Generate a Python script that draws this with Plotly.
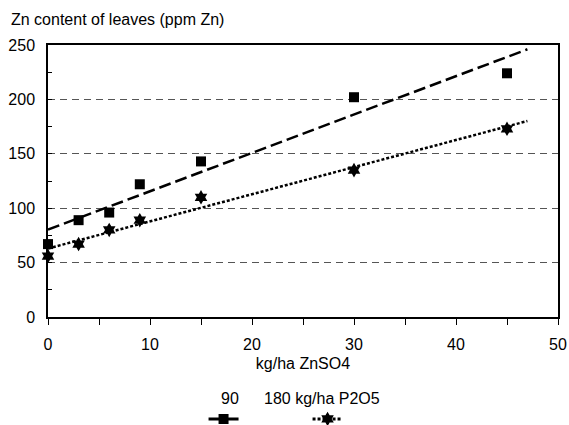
import numpy as np
import plotly.graph_objects as go

zn_rates = [0, 3, 6, 9, 15, 30, 45]
zn_p90 = [67, 89, 96, 122, 143, 202, 224]
zn_p180 = [56, 67, 80, 89, 110, 135, 173]
series_names = ["90", "180 kg/ha P2O5"]
trend_span = [0, 47]

FONT = "Liberation Sans, Arial, sans-serif"
FS = 16

def trend(x, y, span):
    m, b = np.polyfit(x, y, 1)
    xs = np.array(span, dtype=float)
    return xs, m * xs + b

fig = go.Figure()

tx1, ty1 = trend(zn_rates, zn_p90, trend_span)
tx2, ty2 = trend(zn_rates, zn_p180, trend_span)

fig.add_trace(go.Scatter(x=tx1, y=ty1, mode="lines", showlegend=False,
                         line=dict(color="black", width=2.5, dash="12px,5px")))
fig.add_trace(go.Scatter(x=tx2, y=ty2, mode="lines", showlegend=False,
                         line=dict(color="black", width=2.5, dash="3px,2px")))
fig.add_trace(go.Scatter(x=zn_rates, y=zn_p90, mode="markers", showlegend=False,
                         cliponaxis=False,
                         marker=dict(symbol="square", size=10, color="black")))
fig.add_trace(go.Scatter(x=zn_rates, y=zn_p180, mode="markers", showlegend=False,
                         cliponaxis=False,
                         marker=dict(symbol="hexagram", size=11, color="black")))

# legend samples
fig.add_trace(go.Scatter(x=[None], y=[None], mode="lines+markers", name=" ",
                         line=dict(color="black", width=3, dash="solid"),
                         marker=dict(symbol="square", size=10, color="black")))
fig.add_trace(go.Scatter(x=[None], y=[None], mode="lines+markers", name=" ",
                         line=dict(color="black", width=3, dash="3px,2px"),
                         marker=dict(symbol="hexagram", size=11, color="black")))

fig.update_layout(
    width=569, height=425,
    margin=dict(l=48, r=11, t=45, b=108, autoexpand=False),
    paper_bgcolor="white", plot_bgcolor="white",
    font=dict(family=FONT, size=FS, color="black"),
    showlegend=True,
    legend=dict(orientation="h", x=0.305, xanchor="left",
                yref="container", y=6/425, yanchor="middle",
                entrywidth=59, entrywidthmode="pixels",
                font=dict(size=FS), bgcolor="rgba(0,0,0,0)"),
    xaxis=dict(range=[0, 50], dtick=10, tick0=0, showgrid=False, zeroline=False,
               showline=True, linecolor="black", linewidth=1.5, mirror=True,
               ticks="outside", ticklen=6, tickcolor="black", automargin=False,
               ticklabelstandoff=6,
               minor=dict(dtick=5, ticks="outside", ticklen=6, tickcolor="black", showgrid=False),
               title=dict(text="kg/ha ZnSO4", font=dict(size=FS), standoff=6),
               tickfont=dict(size=FS)),
    yaxis=dict(range=[0, 250], dtick=50, tick0=0, showgrid=True, gridcolor="#555",
               griddash="7px,5px", gridwidth=1, zeroline=False,
               showline=True, linecolor="black", linewidth=1.5, mirror=True,
               ticks="inside", ticklen=4, tickcolor="black", automargin=False,
               ticklabelstandoff=8,
               minor=dict(dtick=25, ticks="inside", ticklen=4, tickcolor="black", showgrid=False),
               tickfont=dict(size=FS)),
    annotations=[
        dict(text="Zn content of leaves (ppm Zn)", xref="paper", yref="paper",
             x=-39/510, y=1, xanchor="left", yanchor="middle", yshift=26,
             showarrow=False, font=dict(size=FS)),
        dict(text=series_names[0], xref="paper", yref="paper", x=(230-48)/510, y=-81/272,
             xanchor="center", yanchor="middle", showarrow=False, font=dict(size=FS)),
        dict(text=series_names[1], xref="paper", yref="paper", x=(262-48)/510, y=-81/272,
             xanchor="left", yanchor="middle", showarrow=False, font=dict(size=FS)),
    ],
)

fig.write_html("out.html", config={"displayModeBar": False},
               post_script="document.body.style.margin='0';document.body.style.overflow='hidden';")
